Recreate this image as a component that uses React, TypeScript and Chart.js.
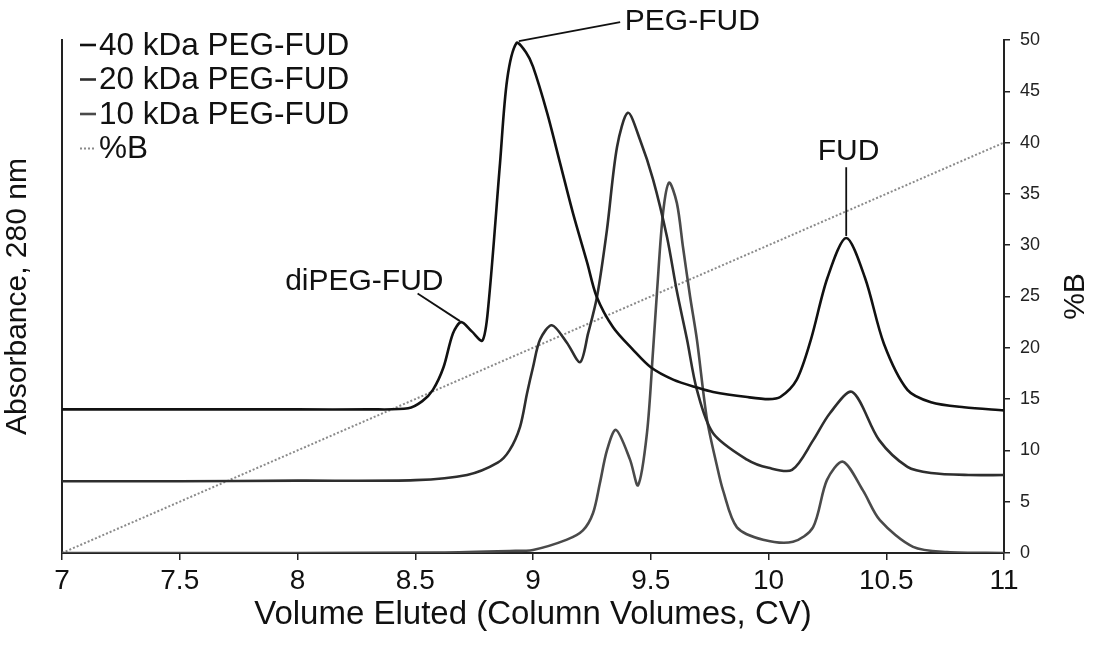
import React, { useEffect, useRef } from "react";
import { Chart, registerables } from "chart.js";

Chart.register(...registerables);

// ---- Data ----
const cv40 = [7.0, 7.5, 8.0, 8.3, 8.47, 8.53, 8.575, 8.62, 8.66, 8.695, 8.74, 8.785, 8.81, 8.86, 8.89, 8.93, 8.97, 9.0, 9.06, 9.115, 9.17, 9.23, 9.27, 9.34, 9.425, 9.5, 9.595, 9.7, 9.765, 9.91, 10.0, 10.05, 10.12, 10.18, 10.25, 10.33, 10.41, 10.49, 10.59, 10.69, 10.83, 11.0];
const abs40 = [14.0, 14.0, 14.0, 14.0, 14.1, 14.8, 15.9, 18.1, 21.4, 22.5, 21.6, 20.7, 24.0, 38.0, 46.1, 49.7, 48.8, 47.4, 42.9, 38.0, 33.1, 28.3, 25.0, 22.0, 19.8, 18.1, 16.9, 16.1, 15.7, 15.2, 15.0, 15.2, 16.9, 20.8, 26.8, 30.7, 26.8, 20.4, 15.9, 14.7, 14.2, 13.9];

const cv20 = [7.0, 7.5, 8.0, 8.5, 8.72, 8.85, 8.9, 8.945, 8.975, 9.0, 9.03, 9.08, 9.144, 9.2, 9.234, 9.272, 9.314, 9.357, 9.403, 9.454, 9.51, 9.569, 9.611, 9.654, 9.696, 9.764, 9.909, 10.0, 10.1, 10.19, 10.26, 10.355, 10.47, 10.59, 10.69, 10.85, 11.0];
const abs20 = [7.0, 7.0, 7.05, 7.1, 7.6, 8.8, 10.0, 12.3, 15.6, 18.1, 20.8, 22.2, 20.5, 18.6, 21.4, 25.0, 31.5, 39.6, 42.9, 40.3, 36.4, 30.8, 25.5, 20.8, 15.9, 11.7, 9.1, 8.3, 8.1, 11.0, 13.6, 15.7, 11.0, 8.4, 7.8, 7.6, 7.6];

const cv10 = [7.0, 8.0, 8.6, 8.9, 9.0, 9.144, 9.212, 9.255, 9.284, 9.314, 9.352, 9.412, 9.446, 9.484, 9.51, 9.527, 9.552, 9.578, 9.611, 9.637, 9.667, 9.696, 9.739, 9.781, 9.807, 9.866, 9.977, 10.104, 10.189, 10.248, 10.316, 10.401, 10.473, 10.614, 10.758, 11.0];
const abs10 = [0, 0, 0.05, 0.2, 0.3, 1.3, 2.2, 3.9, 6.8, 10.0, 12.0, 9.1, 6.6, 11.7, 19.8, 25.6, 33.1, 36.1, 34.1, 29.8, 25.0, 20.8, 13.0, 8.5, 6.1, 2.5, 1.3, 1.1, 2.5, 7.1, 8.9, 6.1, 3.2, 0.6, 0.1, 0];

const cvB = [7, 11];
const pctB = [0, 40];

const seriesLabels = ["40 kDa PEG-FUD", "20 kDa PEG-FUD", "10 kDa PEG-FUD", "%B"];
const xTitle = "Volume Eluted (Column Volumes, CV)";
const yLeftTitle = "Absorbance, 280 nm";
const yRightTitle = "%B";

// annotation labels: text anchor and leader line, in data units
const annText = ["PEG-FUD", "diPEG-FUD", "FUD"];
const annAt = [[9.39, 51.75], [8.62, 26.4], [10.34, 39.1]];
const annAlign = ["left", "right", "center"];
const annFrom = [[8.94, 49.9], [8.69, 22.6], [10.33, 30.9]];
const annTo = [[9.37, 51.75], [8.51, 25.3], [10.33, 37.6]];

const FONT = "'Liberation Sans', Arial, Helvetica, sans-serif";

const pts = (xs: number[], ys: number[]) => xs.map((x, i) => ({ x, y: ys[i] }));

const colors = ["#111111", "#2e2e2e", "#4a4a4a", "#8a8a8a"];

const overlayPlugin = {
  id: "overlay",
  afterDraw(chart: any) {
    const { ctx, chartArea, scales } = chart;
    const xs = scales.x;
    const ys = scales.y;
    ctx.save();
    // annotations
    ctx.font = `30px ${FONT}`;
    ctx.fillStyle = "#111";
    ctx.strokeStyle = "#111";
    ctx.lineWidth = 1.8;
    ctx.textBaseline = "middle";
    for (let i = 0; i < annText.length; i++) {
      ctx.beginPath();
      ctx.moveTo(xs.getPixelForValue(annFrom[i][0]), ys.getPixelForValue(annFrom[i][1]));
      ctx.lineTo(xs.getPixelForValue(annTo[i][0]), ys.getPixelForValue(annTo[i][1]));
      ctx.stroke();
      ctx.textAlign = annAlign[i] as CanvasTextAlign;
      ctx.fillText(annText[i], xs.getPixelForValue(annAt[i][0]), ys.getPixelForValue(annAt[i][1]));
    }
    // legend
    const lx = chartArea.left + 18;
    const ly = chartArea.top + 5;
    ctx.font = `31.5px ${FONT}`;
    ctx.textAlign = "left";
    ctx.textBaseline = "middle";
    chart.data.datasets.forEach((ds: any, i: number) => {
      const y = ly + i * 34.5;
      ctx.beginPath();
      ctx.strokeStyle = ds.borderColor;
      ctx.lineWidth = ds.borderWidth;
      ctx.setLineDash(ds.borderDash || []);
      ctx.moveTo(lx, y);
      ctx.lineTo(lx + 16, y);
      ctx.stroke();
      ctx.setLineDash([]);
      ctx.fillStyle = "#111";
      ctx.fillText(ds.label, lx + 19, y + 1);
    });
    // right axis title (reads bottom-to-top)
    ctx.save();
    ctx.translate(chartArea.right + 72, (chartArea.top + chartArea.bottom) / 2);
    ctx.rotate(-Math.PI / 2);
    ctx.textAlign = "center";
    ctx.textBaseline = "middle";
    ctx.font = `30px ${FONT}`;
    ctx.fillStyle = "#111";
    ctx.fillText(yRightTitle, 0, 0);
    ctx.restore();
    ctx.restore();
  },
};

export default function App() {
  const ref = useRef<HTMLCanvasElement>(null);
  useEffect(() => {
    const canvas = ref.current!;
    const line = { borderWidth: 2.6, pointRadius: 0, tension: 0.3, yAxisID: "y" };
    const chart = new Chart(canvas, {
      type: "line",
      data: {
        datasets: [
          { ...line, label: seriesLabels[0], data: pts(cv40, abs40), borderColor: colors[0] },
          { ...line, label: seriesLabels[1], data: pts(cv20, abs20), borderColor: colors[1] },
          { ...line, label: seriesLabels[2], data: pts(cv10, abs10), borderColor: colors[2] },
          { label: seriesLabels[3], data: pts(cvB, pctB), borderColor: colors[3], borderWidth: 2, borderDash: [2, 2], pointRadius: 0, yAxisID: "y" },
        ],
      },
      options: {
        animation: false,
        responsive: false,
        devicePixelRatio: 1,
        layout: { padding: { top: 40, left: 0, right: 0, bottom: 0 } },
        plugins: { legend: { display: false }, tooltip: { enabled: false } },
        scales: {
          x: {
            type: "linear",
            min: 7,
            max: 11,
            ticks: {
              stepSize: 0.5,
              font: { family: FONT, size: 28 },
              color: "#111",
              padding: 4,
              maxRotation: 0,
              callback: (v: any) => String(Math.round(Number(v) * 10) / 10),
            },
            grid: { drawOnChartArea: false, drawTicks: true, tickLength: 7, color: "#222", lineWidth: 1.5 },
            border: { display: true, color: "#222", width: 2 },
            title: { display: true, text: xTitle, font: { family: FONT, size: 33 }, color: "#111", padding: { top: 0, bottom: 14 } },
            afterFit: (s: any) => { s.height = 96; },
          },
          y: {
            type: "linear",
            position: "right",
            min: 0,
            max: 50,
            ticks: { stepSize: 5, font: { family: FONT, size: 18 }, color: "#222", padding: 10 },
            grid: { drawOnChartArea: false, drawTicks: true, tickLength: 6, color: "#222", lineWidth: 1.5 },
            border: { display: true, color: "#222", width: 2 },
            afterFit: (s: any) => { s.width = 92; },
          },
          yl: {
            type: "linear",
            position: "left",
            min: 0,
            max: 50,
            ticks: { display: false },
            grid: { display: false },
            border: { display: true, color: "#222", width: 2 },
            title: { display: true, text: yLeftTitle, font: { family: FONT, size: 30 }, color: "#111", padding: { top: 0, bottom: 0 } },
            afterFit: (s: any) => { s.width = 62; },
          },
        },
      },
      plugins: [overlayPlugin],
    } as any);
    return () => chart.destroy();
  }, []);
  return (
    <div style={{ position: "fixed", left: 0, top: 0, width: 1096, height: 649, background: "#fff" }}>
      <canvas ref={ref} width={1096} height={649} style={{ display: "block" }} />
    </div>
  );
}
